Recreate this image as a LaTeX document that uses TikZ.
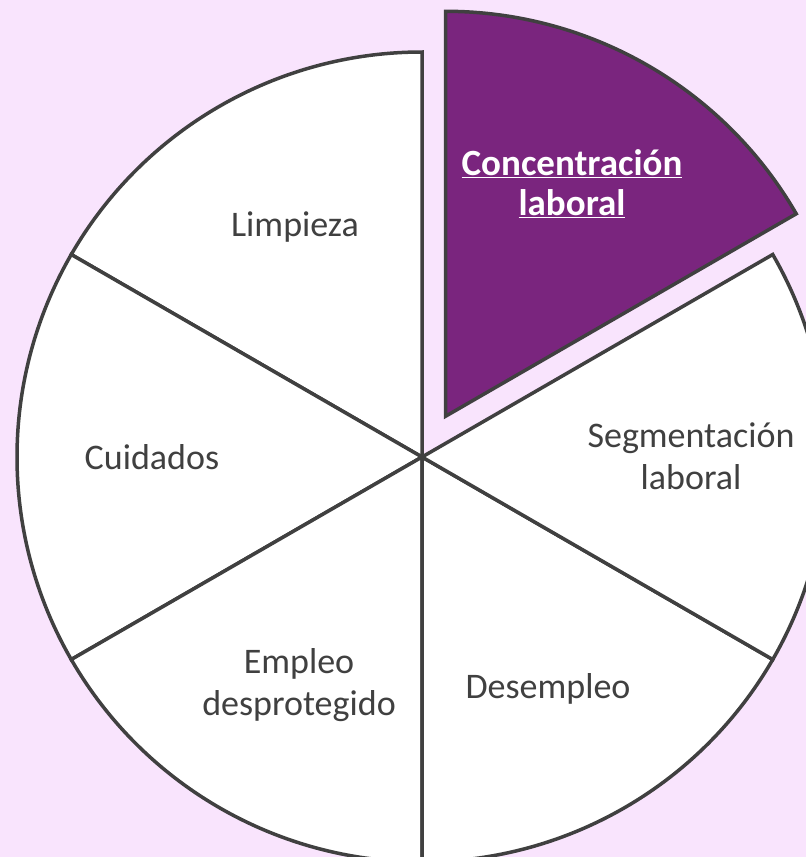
\documentclass[tikz,border=0pt]{standalone}
\usepackage{fontspec}
\setmainfont{Carlito}
\usetikzlibrary{calc}
\definecolor{bgpink}{RGB}{249,228,253}
\definecolor{slicepurple}{RGB}{122,37,126}
\definecolor{edgegray}{RGB}{64,64,64}
\begin{document}
\begin{tikzpicture}[x=1pt,y=1pt,
  slice/.style={fill=white,draw=edgegray,line width=3.5pt,line join=miter},
  hislice/.style={fill=slicepurple,draw=edgegray,line width=3.5pt,line join=miter},
  lbl/.style={align=center,inner sep=0pt,text=edgegray,font=\fontsize{36}{42}\selectfont},
  hilbl/.style={align=center,inner sep=0pt,text=white,font=\fontsize{37}{40}\selectfont\bfseries}]
\useasboundingbox (0,-857) rectangle (806,0);
\fill[bgpink] (0,-857) rectangle (806,0);
\clip (0,-857) rectangle (806,0);
\coordinate (c) at (422,-457);
\foreach \a in {90,150,210,270,330}{
  \draw[slice] (c) -- ++(\a:405) arc[start angle=\a,end angle=\a+60,radius=405] -- cycle;
}
\coordinate (ce) at ($(c)+(60:47)$);
\draw[hislice] (ce) -- ++(30:405) arc[start angle=30,end angle=90,radius=405] -- cycle;
\node[hilbl] (conc) at (572,-184) {\underline{Concentración}\\\underline{laboral}};
\node[lbl] (limp) at (295,-227) {Limpieza};
\node[lbl] (cuid) at (152,-457) {Cuidados};
\node[lbl] (segm) at (691,-456) {Segmentación\\laboral};
\node[lbl] (desem) at (548,-689) {Desempleo};
\node[lbl] (empl) at (299,-685) {Empleo\\desprotegido};
\end{tikzpicture}
\end{document}
